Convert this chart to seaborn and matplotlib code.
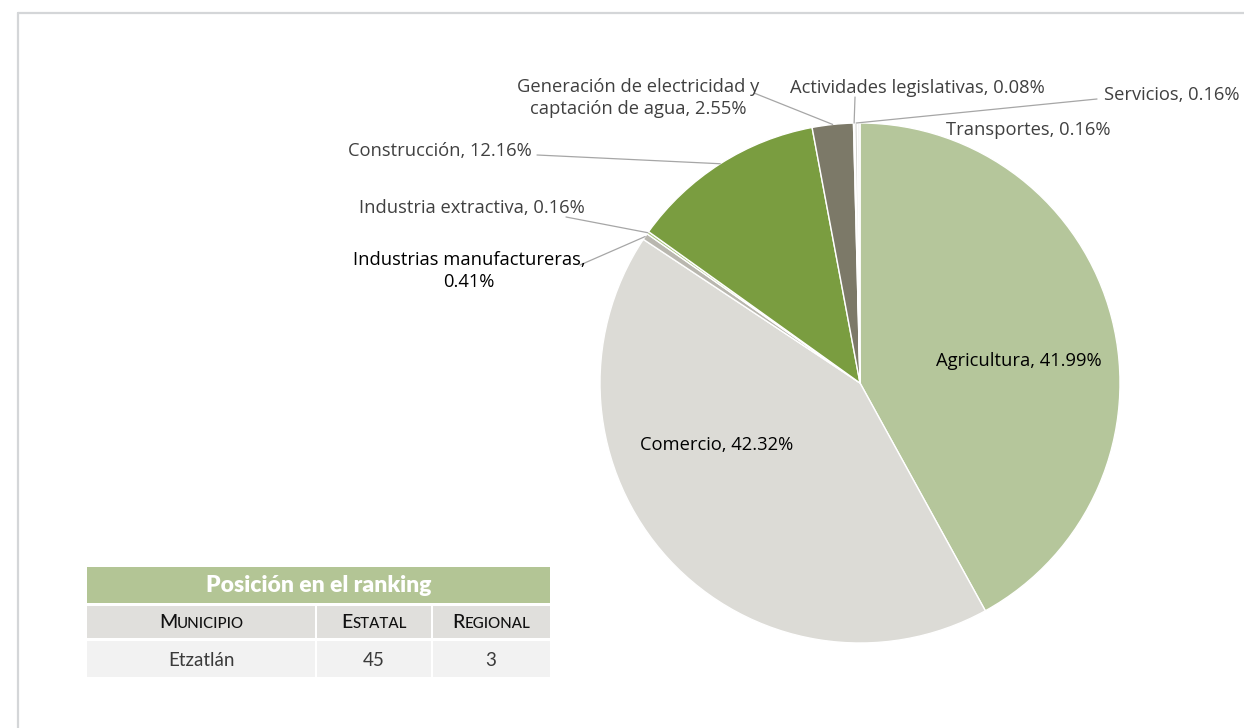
import numpy as np
import pandas as pd
import matplotlib
matplotlib.use("Agg")
import matplotlib.pyplot as plt
import seaborn as sns
from matplotlib.patches import ConnectionPatch, Rectangle
from matplotlib.lines import Line2D

# ---------------- data ----------------
sectors = ["Agricultura", "Comercio", "Industrias manufactureras", "Industria extractiva",
           "Construcción", "Generación de electricidad y captación de agua",
           "Actividades legislativas", "Servicios", "Transportes"]
shares = [41.99, 42.32, 0.41, 0.16, 12.16, 2.55, 0.08, 0.16, 0.16]
slice_colors = ["#b5c69b", "#dcdbd6", "#b9b7af", "#a7c27c", "#7a9d40",
                "#7c7968", "#3b7f2a", "#d0d0cc", "#f4f4f2"]

rank_title = "Posición en el ranking"
rank_headers = ["Municipio", "Estatal", "Regional"]
rank_values = ["Etzatlán", "45", "3"]

# ---------------- style ----------------
sns.set_theme(style="white")
LABEL_FONT = ["Open Sans", "DejaVu Sans"]
TABLE_FONT = ["Lato", "DejaVu Sans"]
plt.rcParams["font.family"] = LABEL_FONT

W, H = 1244, 728
fig = plt.figure(figsize=(W / 100, H / 100), dpi=100)
fig.patch.set_facecolor("white")


def px(x, y):
    return (x / W, 1 - y / H)


# outer frame (top + left lines)
fig.add_artist(Line2D([18 / W, 1.0], [1 - 12.5 / H] * 2, transform=fig.transFigure,
                      color="#d4d6d8", lw=1.6))
fig.add_artist(Line2D([18 / W] * 2, [0, 1 - 12.5 / H], transform=fig.transFigure,
                      color="#d4d6d8", lw=1.6))

# ---------------- pie ----------------
cx, cy, r = 860, 383, 260
ax = fig.add_axes([(cx - r) / W, 1 - (cy + r) / H, 2 * r / W, 2 * r / H])
wedges, _ = ax.pie(shares, colors=slice_colors, startangle=90, counterclock=False,
                   radius=1.0, wedgeprops=dict(edgecolor="white", linewidth=1.0))
ax.set_xlim(-1, 1)
ax.set_ylim(-1, 1)
ax.set_aspect("equal")
ax.axis("off")

labels = [
    "Agricultura, {:.2f}%",
    "Comercio, {:.2f}%",
    "Industrias manufactureras,\n{:.2f}%",
    "Industria extractiva, {:.2f}%",
    "Construcción, {:.2f}%",
    "Generación de electricidad y\ncaptación de agua, {:.2f}%",
    "Actividades legislativas, {:.2f}%",
    "Servicios, {:.2f}%",
    "Transportes, {:.2f}%",
]
# (text center px, leader start px or None, text colour)
label_layout = [
    ((1019, 361), None, "#000000"),
    ((717, 445), None, "#000000"),
    ((469, 271), (580, 265), "#000000"),
    ((472, 208), (566, 217), "#404040"),
    ((440, 151), (537, 155), "#404040"),
    ((638, 98), (754, 93), "#404040"),
    ((917, 88), (855, 97), "#404040"),
    ((1172, 95), (1097, 99), "#404040"),
    ((1028, 130), None, "#404040"),
]

cum = np.cumsum([0] + shares)
total = cum[-1]
for i, (lab, (tpos, lstart, col)) in enumerate(zip(labels, label_layout)):
    fig.text(*px(*tpos), lab.format(shares[i]), ha="center", va="center",
             fontsize=13.2, color=col, family=LABEL_FONT, linespacing=1.35)
    if lstart is not None:
        mid = (cum[i] + cum[i + 1]) / 2 / total
        ang = np.deg2rad(90 - 360 * mid)
        pt = (np.cos(ang) * 1.0, np.sin(ang) * 1.0)
        con = ConnectionPatch(xyA=px(*lstart), coordsA="figure fraction",
                              xyB=pt, coordsB=ax.transData,
                              color="#a6a6a6", lw=0.9)
        fig.add_artist(con)

# ---------------- ranking table ----------------
tx0, tx1, ty0, ty1 = 87, 550, 567, 677
tax = fig.add_axes([tx0 / W, 1 - ty1 / H, (tx1 - tx0) / W, (ty1 - ty0) / H])
tax.set_xlim(tx0, tx1)
tax.set_ylim(ty1, ty0)
tax.axis("off")

col_edges = [87, 316, 432, 550]
rows = [(567, 603), (606, 638), (641, 677)]

tax.add_patch(Rectangle((tx0, rows[0][0]), tx1 - tx0, rows[0][1] - rows[0][0],
                        facecolor="#b3c595", edgecolor="none"))
for c in range(3):
    a, b = col_edges[c] + (1 if c else 0), col_edges[c + 1] - (1 if c < 2 else 0)
    tax.add_patch(Rectangle((a, rows[1][0]), b - a, rows[1][1] - rows[1][0],
                            facecolor="#e0dfdc", edgecolor="none"))
    tax.add_patch(Rectangle((a, rows[2][0]), b - a, rows[2][1] - rows[2][0],
                            facecolor="#f2f2f2", edgecolor="none"))

tax.text((tx0 + tx1) / 2, (rows[0][0] + rows[0][1]) / 2 + 1, rank_title,
         ha="center", va="center", color="white", fontsize=16.5, fontweight="heavy",
         family=TABLE_FONT)

renderer = fig.canvas.get_renderer()


def small_caps(axis, xc, yc, word, big=14.0, small=10.8, color="#111111"):
    t1 = axis.text(0, yc, word[0].upper(), ha="left", va="baseline", fontsize=big,
                   color=color, family=TABLE_FONT, fontweight="medium")
    t2 = axis.text(0, yc, word[1:].upper(), ha="left", va="baseline", fontsize=small,
                   color=color, family=TABLE_FONT, fontweight="medium")
    w1 = t1.get_window_extent(renderer).width
    w2 = t2.get_window_extent(renderer).width
    start = xc - (w1 + w2) / 2
    t1.set_x(start)
    t2.set_x(start + w1)


for c, hdr in enumerate(rank_headers):
    xc = (col_edges[c] + col_edges[c + 1]) / 2
    small_caps(tax, xc, 628, hdr)
    tax.text(xc, (rows[2][0] + rows[2][1]) / 2 + 1, rank_values[c], ha="center",
             va="center", fontsize=13.5, color="#3a3a3a", family=TABLE_FONT,
             fontweight="normal")

fig.savefig("out.png", dpi=100, facecolor="white")
